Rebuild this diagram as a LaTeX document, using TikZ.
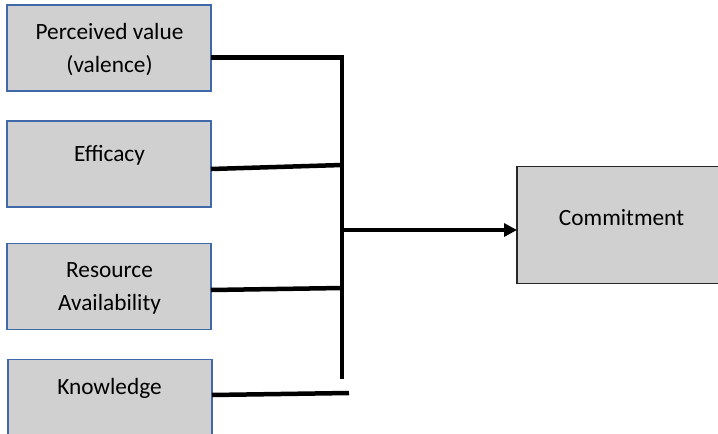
\documentclass[tikz,border=0pt]{standalone}
\usepackage{fontspec}
\setmainfont{Carlito}
\usetikzlibrary{arrows.meta}
\definecolor{boxgray}{RGB}{208,208,208}
\definecolor{boxblue}{RGB}{65,105,170}
\begin{document}
\begin{tikzpicture}[x=1pt,y=-1pt,
  inbox/.style={draw=boxblue,line width=1.6pt,fill=boxgray,minimum width=204pt,minimum height=86pt,anchor=north west,outer sep=0pt,inner sep=0pt},
  outbox/.style={draw=black!85,line width=1.3pt,fill=boxgray,minimum width=210pt,minimum height=117pt,anchor=north west,outer sep=0pt,inner sep=0pt},
  txt/.style={font=\fontsize{23.3}{27}\selectfont,anchor=base,inner sep=0pt},
  bus/.style={draw=black,line width=4.5pt,line join=miter},
  arr/.style={bus,-{Triangle[length=13pt,width=13pt]}}]
\useasboundingbox (0,0) rectangle (718,434);
\clip (0,0) rectangle (718,434);
% boxes
\node[inbox] (b1) at (7,5) {};
\node[inbox] (b2) at (7,121) {};
\node[inbox] (b3) at (7,243.5) {};
\node[inbox] (b4) at (8,359.5) {};
\node[outbox] (cm) at (517,166.5) {};
% texts
\node[txt] (t1a) at (109.5,39) {Perceived value};
\node[txt] (t1b) at (109.5,72.5) {(valence)};
\node[txt] (t2) at (109.5,161.5) {Efficacy};
\node[txt] (t3a) at (109.5,277.5) {Resource};
\node[txt] (t3b) at (109.5,310.5) {Availability};
\node[txt] (t4) at (109.5,394.5) {Knowledge};
\node[txt] (tc) at (621.5,225.5) {Commitment};
% bus
\coordinate (bt) at (342,57.5);
\coordinate (bb) at (342,379);
\coordinate (j2) at (342,165);
\coordinate (j3) at (342,288);
\coordinate (ja) at (342,230);
\coordinate (k) at (349,393);
\draw[bus] ([yshift=-52.5pt]b1.north east) -- (bt) -- (bb);
\draw[bus] ([yshift=-48pt]b2.north east) -- (j2);
\draw[bus] ([yshift=-46.5pt]b3.north east) -- (j3);
\draw[bus] ([yshift=-35.5pt]b4.north east) -- (k);
\draw[arr] (ja) -- (cm.west |- ja);
\end{tikzpicture}
\end{document}
